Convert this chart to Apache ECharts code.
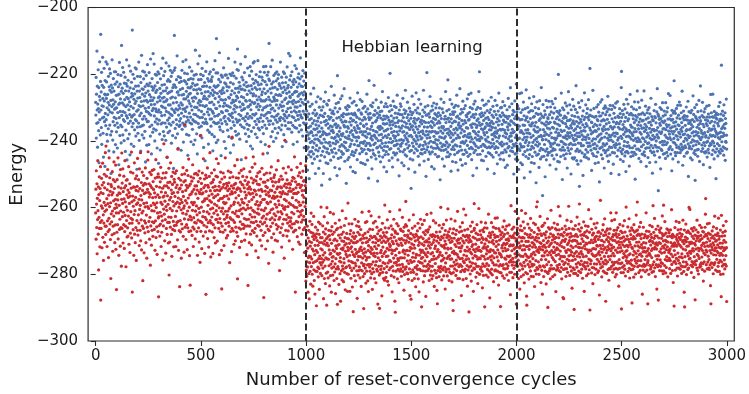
<!DOCTYPE html>
<html>
<head>
<meta charset="utf-8">
<script src="https://cdn.jsdelivr.net/npm/echarts@6/dist/echarts.min.js"></script>
<style>
html, body { margin: 0; padding: 0; background: #fff; }
#main { width: 749px; height: 394px; }
</style>
</head>
<body>
<div id="main"></div>
<script>
// energy of every cycle, read off the plot as a level per cycle:
// whole part in blueA..redC, tenths digit in the matching *Fine array
// energy = scale[0] + scale[1] * level (one scale per phase below)
const blueA = [
  '52 47 61 39 55 44 70 49 58 36 51 45 63 50 42 57 31 48 54 66 46 53 40 59 76',
  '49 56 43 62 37 51 58 46 68 53 41 50 33 57 47 64 52 45 55 29 60 48 54 44 66',
  '46 53 59 41 50 65 38 55 47 52 43 61 49 35 57 51 64 44 56 48 62 40 53 27 58',
  '55 42 50 67 48 57 39 53 45 60 51 34 56 47 63 49 44 58 52 37 63 50 46 54 41',
  '50 59 45 36 54 48 62 43 57 51 30 55 46 66 52 40 58 49 53 44 61 38 56 72 47',
  '43 57 52 64 40 49 55 46 62 51 38 59 45 53 48 61 35 56 50 42 58 47 67 54 32',
  '58 46 51 39 60 53 44 56 49 65 41 52 48 33 57 45 63 50 54 37 59 47 55 43 77',
  '47 54 62 44 50 57 36 53 48 60 42 55 51 64 46 58 40 52 64 45 49 28 56 43 61',
  '53 41 49 58 45 66 51 38 56 47 54 43 61 50 35 59 48 52 68 44 57 40 55 46 63',
  '51 56 44 60 39 52 47 63 54 42 57 50 31 55 46 61 49 53 37 58 45 65 52 48 56',
  '45 58 50 37 62 48 55 43 59 52 40 67 47 54 51 34 57 44 60 49 53 41 56 69 50',
  '57 43 53 65 47 51 38 58 45 62 50 55 42 49 61 46 56 36 52 59 44 63 48 54 30',
  '49 62 46 54 41 57 52 35 60 48 55 44 64 51 47 58 39 53 45 67 50 56 42 61 52',
  '54 40 58 47 63 45 50 56 38 52 66 49 43 57 53 32 59 46 55 41 60 51 48 65 44',
  '46 55 42 59 51 63 48 53 44 61 37 56 50 47 62 54 40 57 45 52 29 58 49 63 75',
  '58 48 64 43 53 39 57 50 46 60 52 44 68 55 41 49 56 36 61 47 54 51 43 59 45',
  '50 44 56 61 46 52 35 59 48 54 63 42 51 57 45 66 49 38 55 53 47 60 44 62 50',
  '43 59 49 53 67 45 56 41 58 50 47 62 54 33 57 46 60 52 40 55 48 64 51 45 57',
  '55 47 60 38 51 57 44 63 49 53 42 59 46 60 52 37 56 48 61 45 54 50 39 58 70',
  '48 53 45 62 56 41 50 58 34 55 47 65 52 44 60 49 57 43 53 68 46 51 40 56 62',
  '52 60 43 49 55 39 64 47 57 51 45 61 53 36 58 48 54 44 59 50 31 56 46 63 53',
  '45 51 58 66 44 53 48 60 42 56 50 37 59 47 54 62 41 52 57 46 63 49 55 43 60',
  '59 46 52 41 61 49 56 35 54 48 63 45 51 58 40 55 47 67 53 44 57 50 62 38 74',
  '50 57 44 55 47 62 39 58 52 45 60 48 54 69 43 51 56 42 59 46 53 33 61 49 55',
  '44 56 61 48 53 42 57 50 64 46 55 38 52 59 47 61 45 53 36 58 49 62 51 44 57',
  '56 49 42 60 51 46 67 54 40 57 48 53 45 62 50 34 59 47 55 43 61 52 39 56 48',
  '47 62 53 45 58 37 52 49 61 44 55 51 66 48 42 57 53 46 60 40 54 50 63 45 71',
  '53 45 57 63 41 55 48 59 46 52 39 58 50 44 65 47 56 32 54 49 61 43 57 51 46',
  '60 51 46 54 49 58 43 62 50 56 45 68 41 53 47 59 52 38 57 44 55 48 64 50 42',
  '46 58 50 40 56 44 61 53 47 64 51 36 55 49 58 42 63 46 52 57 35 60 48 54 66',
  '55 43 59 51 66 47 52 45 57 41 60 54 48 62 44 50 56 39 53 59 46 67 51 43 58',
  '49 54 45 61 42 57 50 63 46 53 38 58 52 47 55 61 43 56 49 60 45 52 41 64 50',
  '57 47 62 52 44 59 37 55 50 65 48 53 43 58 46 61 51 34 56 48 63 45 54 60 73',
  '44 60 53 48 57 51 45 64 40 55 49 58 47 52 67 42 57 50 44 59 38 54 61 47 53',
  '52 49 57 43 62 46 55 39 59 51 47 63 53 45 56 41 60 48 54 62 50 43 58 46 55',
  '58 45 51 66 47 54 42 57 50 61 44 52 36 59 49 55 46 63 51 40 57 48 62 53 45',
  '47 56 44 59 53 38 61 49 55 46 64 51 57 43 50 58 45 69 52 47 56 42 60 54 68',
  '54 50 61 45 57 48 52 41 63 47 55 59 44 51 37 58 53 46 60 49 55 43 65 50 56',
  '45 59 52 48 64 43 56 50 38 57 47 61 54 46 52 62 41 58 49 55 44 60 51 68 47',
  '53 47 58 42 55 61 46 52 57 40 63 49 54 45 59 51 36 56 48 62 44 53 58 47 76'
];
const blueB = [
  '48 55 41 60 52 45 57 37 50 63 46 53 43 58 49 34 56 51 44 61 47 54 66 42 52',
  '57 44 51 48 62 39 55 46 59 50 43 68 53 47 56 41 60 49 52 36 58 45 54 63 50',
  '46 59 53 42 56 49 65 44 51 57 38 54 48 61 45 52 40 58 50 64 47 55 43 60 31',
  '53 47 58 50 44 61 52 36 57 46 63 49 55 42 59 51 45 67 48 54 40 56 50 62 44',
  '50 62 45 55 39 58 47 53 64 43 51 56 48 33 60 46 54 41 57 52 69 45 49 59 53',
  '44 52 60 47 56 51 42 58 49 66 45 54 38 61 50 47 55 43 62 48 53 57 35 51 73',
  '59 48 54 41 63 50 45 57 52 37 60 46 53 49 64 42 56 51 44 58 47 65 50 55 43',
  '51 57 43 59 46 54 68 48 53 40 56 50 45 61 47 55 32 58 52 44 60 49 54 41 62',
  '45 53 58 50 42 61 49 55 46 65 51 38 57 47 54 43 59 52 48 63 44 56 50 36 58',
  '56 42 50 63 53 47 59 44 52 36 58 49 55 45 62 51 48 57 41 54 67 46 53 50 60',
  '49 60 46 53 57 43 51 64 47 55 40 59 52 45 58 48 63 44 56 50 39 61 47 54 52',
  '54 45 57 48 61 50 39 56 52 46 59 43 55 49 66 47 53 41 60 51 45 58 34 57 71',
  '47 56 51 44 59 53 46 62 49 57 42 54 50 37 61 48 55 45 63 52 43 58 47 69 50',
  '58 50 43 60 47 55 52 41 64 49 56 45 51 59 46 33 57 53 48 61 44 54 50 42 58',
  '52 46 59 54 40 57 48 63 51 45 60 53 47 67 42 56 49 55 44 58 38 52 61 46 55',
  '43 57 50 47 62 52 44 58 36 55 49 61 46 53 57 43 65 50 48 56 41 59 45 54 74',
  '55 49 62 45 53 58 47 51 60 42 56 38 54 48 63 50 44 57 52 46 61 49 55 43 59',
  '50 54 46 61 48 43 57 52 66 47 55 41 59 50 45 56 53 35 60 48 52 58 44 62 47',
  '46 61 53 49 56 40 58 47 54 51 64 44 57 48 52 39 60 55 45 50 59 43 68 53 49',
  '60 47 55 42 51 57 49 63 45 53 48 58 37 56 50 46 61 52 44 55 41 59 50 57 30',
  '53 44 58 50 65 47 54 41 59 52 46 56 49 62 43 57 51 36 55 48 60 45 53 67 50',
  '47 56 50 59 44 53 61 48 42 57 51 64 46 54 39 58 50 47 55 43 62 52 49 56 45',
  '55 49 43 57 52 60 46 51 68 45 56 40 53 59 48 44 61 50 55 47 34 58 52 45 74',
  '49 58 53 46 62 50 41 55 47 59 44 52 57 49 65 43 54 48 60 51 46 56 38 53 61',
  '44 52 60 55 48 57 45 63 50 37 54 47 59 52 43 56 49 61 45 58 51 62 47 55 42',
  '57 46 51 48 59 42 56 53 45 61 50 55 33 58 47 52 64 44 57 49 54 46 60 41 53',
  '51 59 47 54 44 63 49 38 56 52 46 58 50 67 45 55 48 53 42 60 47 56 51 44 72',
  '46 53 57 42 60 50 55 47 52 64 43 58 49 54 36 57 51 45 62 48 55 40 59 50 46',
  '58 48 52 61 45 56 43 59 51 47 55 62 40 53 49 57 66 46 52 44 58 50 37 61 54',
  '50 55 44 57 49 53 68 46 58 41 54 51 47 60 45 56 52 39 59 48 63 43 55 50 47',
  '43 60 52 47 56 50 45 62 39 55 48 58 53 44 57 50 64 46 53 59 42 51 56 66 49',
  '56 45 59 51 43 61 48 54 50 66 46 57 41 53 49 60 45 55 35 58 52 47 62 44 57',
  '52 47 55 63 49 44 58 51 46 60 53 38 56 48 54 43 61 50 57 45 52 67 49 55 75',
  '48 58 43 54 61 50 46 57 53 41 59 49 55 64 44 52 47 58 40 56 51 62 46 53 50',
  '59 46 53 49 57 42 62 48 55 51 45 60 37 57 50 54 44 63 48 56 46 52 59 43 55',
  '45 54 60 47 52 65 43 56 50 58 46 53 49 61 42 55 57 47 51 36 59 50 45 64 52',
  '53 50 46 58 44 55 51 62 48 39 57 52 45 60 54 49 66 43 56 50 47 58 53 41 61',
  '47 57 52 43 61 48 54 46 59 53 63 44 50 56 41 58 47 55 52 62 45 51 38 57 49',
  '55 44 58 51 47 60 39 53 57 45 52 64 49 55 46 58 42 61 50 54 48 69 44 56 51',
  '50 56 48 62 45 53 58 44 51 60 47 55 35 59 52 46 57 63 43 54 49 41 58 47 70'
];
const blueC = [
  '51 44 59 47 55 62 42 53 49 57 38 61 46 54 50 66 45 56 48 52 41 59 53 47 66',
  '46 57 52 40 60 49 55 44 63 51 47 58 35 54 50 45 61 48 56 53 43 67 49 57 52',
  '58 50 45 61 53 47 56 42 52 59 48 64 44 55 51 37 57 46 60 50 54 41 62 47 55',
  '43 55 60 48 51 57 46 65 53 41 58 49 54 45 61 52 47 56 33 59 50 44 63 52 48',
  '54 47 52 58 44 61 50 39 56 48 63 45 53 57 42 59 51 46 68 50 55 43 58 49 29',
  '49 62 46 53 57 43 55 51 47 60 52 36 58 45 54 49 64 42 56 51 46 61 53 44 57',
  '57 45 55 49 63 51 44 58 53 40 56 48 61 47 52 59 45 63 50 43 57 54 48 62 46',
  '45 53 59 42 50 56 48 61 46 55 64 49 52 38 57 50 44 60 53 47 58 41 55 51 73',
  '52 59 47 56 41 54 60 46 51 58 43 53 49 66 45 56 52 48 35 61 46 55 50 57 44',
  '60 48 53 45 58 50 42 63 55 47 51 57 44 54 62 49 39 56 52 46 59 51 67 45 53',
  '47 56 50 62 44 52 57 48 54 37 60 46 53 51 58 43 55 64 47 50 56 42 61 53 49',
  '55 43 58 51 47 60 53 45 69 49 56 42 52 59 46 54 50 40 57 48 63 45 55 52 32',
  '50 61 45 54 57 48 41 56 52 47 63 51 44 58 49 55 36 60 47 53 50 57 43 66 54',
  '44 52 57 49 62 46 55 50 43 59 48 54 61 45 51 57 47 64 42 56 50 48 58 53 75',
  '58 47 53 60 45 51 56 38 55 49 58 44 52 67 47 54 50 43 61 46 57 52 48 55 41',
  '53 49 46 58 52 43 61 54 47 57 50 45 56 62 41 53 59 48 51 34 58 46 55 49 63',
  '46 58 51 44 56 50 64 47 53 42 59 52 48 57 45 61 54 39 56 50 47 62 44 53 58',
  '61 45 55 52 48 59 43 57 50 65 46 53 41 60 49 55 51 47 58 44 62 50 54 46 37',
  '49 54 60 46 57 51 45 53 62 48 40 56 52 59 47 54 44 61 50 57 46 52 63 48 55',
  '52 47 56 43 51 63 49 58 45 54 50 57 36 55 48 61 53 46 59 42 56 50 45 68 74',
  '57 50 44 60 53 46 55 41 58 51 62 47 54 49 56 43 60 52 45 57 38 53 50 64 47',
  '45 59 52 48 56 62 44 51 57 47 53 40 58 50 46 66 52 55 43 59 49 54 61 45 51',
  '54 46 58 51 43 57 49 60 52 45 55 63 47 53 35 58 50 44 56 52 60 46 49 57 67',
  '48 55 50 63 46 53 58 42 56 49 61 45 52 57 48 54 41 59 51 47 64 53 44 56 50',
  '59 44 56 47 54 50 67 45 52 58 43 55 49 61 46 53 57 39 54 50 46 59 52 48 60',
  '43 57 51 55 48 61 46 53 41 59 50 56 45 52 64 47 55 49 58 44 53 37 57 51 46',
  '56 49 53 45 60 52 44 58 50 47 57 62 41 55 49 53 46 59 51 68 45 54 50 58 31',
  '50 58 46 52 57 43 55 61 48 54 39 57 51 46 60 52 45 56 49 63 47 53 58 44 55',
  '47 53 60 49 44 56 51 58 42 63 53 47 55 50 45 59 54 48 61 43 57 50 66 52 46',
  '55 46 51 57 50 65 47 53 44 58 49 56 52 38 60 46 54 57 42 51 59 48 55 50 71',
  '52 60 48 54 45 59 43 56 51 47 61 53 46 57 50 44 62 49 55 41 58 52 47 54 63',
  '46 51 57 44 62 50 53 48 59 45 55 52 67 47 54 40 57 51 46 60 49 56 43 58 51',
  '58 47 54 50 46 57 52 61 44 53 49 58 45 56 51 63 48 36 55 50 59 46 53 47 56',
  '50 56 43 59 53 48 55 46 60 52 42 57 49 54 65 47 52 58 44 51 56 49 61 45 34',
  '44 58 52 47 57 51 62 45 54 49 56 43 59 52 46 55 50 64 48 53 41 57 50 55 69',
  '56 49 60 53 45 52 47 58 50 63 46 55 51 40 57 48 54 59 45 52 47 61 44 56 50',
  '51 45 55 48 61 57 43 54 49 56 52 46 59 50 44 62 53 47 57 39 55 51 48 66 53',
  '47 59 50 56 44 53 58 49 66 45 51 57 48 54 42 60 47 53 56 50 45 58 52 35 57',
  '59 52 46 57 51 48 55 43 58 50 54 61 45 52 47 56 49 63 44 57 52 46 59 50 76',
  '53 48 56 45 60 50 54 47 52 58 44 62 51 55 46 53 59 42 57 49 55 48 64 51 46'
];
const redA = [
  '49 57 41 63 52 45 59 36 54 47 66 50 43 58 31 55 48 61 44 53 39 57 46 64 22',
  '56 44 52 60 47 38 58 51 65 42 55 49 34 59 46 53 62 40 57 50 45 68 52 43 70',
  '45 61 50 54 39 57 47 63 52 43 59 35 55 48 67 44 51 60 46 56 41 53 29 58 49',
  '58 47 55 42 62 50 37 56 45 60 53 48 65 43 57 51 40 59 46 54 64 38 52 49 25',
  '51 43 60 55 46 53 67 41 58 49 36 56 52 44 61 47 55 39 63 50 45 57 33 54 68',
  '44 59 48 52 63 40 56 50 46 61 54 38 57 43 66 49 53 45 58 32 51 60 47 55 42',
  '60 50 45 57 42 54 48 64 39 56 52 46 59 37 55 43 62 50 48 57 69 41 53 46 24',
  '47 55 62 44 51 58 36 53 49 65 43 57 50 40 60 54 45 56 34 52 61 47 58 44 67',
  '53 42 56 49 60 46 54 39 63 50 57 44 52 68 41 55 47 59 38 53 49 62 45 56 28',
  '50 58 44 61 52 37 55 47 59 43 51 64 46 56 40 58 49 53 35 60 45 57 51 66 69',
  '43 56 51 47 59 54 41 62 48 55 33 58 45 52 61 39 57 50 44 63 47 54 42 59 52',
  '57 46 63 50 44 56 52 38 60 47 54 66 42 51 58 45 53 36 61 49 55 43 62 48 23',
  '48 61 45 54 57 42 50 59 46 64 53 39 56 48 43 60 52 47 57 34 54 62 45 51 71',
  '55 49 58 41 53 60 47 56 37 51 62 44 58 50 67 43 55 46 59 52 40 57 48 63 30',
  '46 53 40 59 51 45 65 54 48 57 43 61 36 55 50 58 44 53 62 47 56 39 52 60 45',
  '59 44 55 62 48 52 39 57 45 63 50 46 58 53 41 56 69 47 54 38 60 51 44 57 26',
  '52 57 47 43 60 54 50 35 58 46 61 53 44 56 49 64 42 55 51 59 37 52 47 62 77',
  '45 60 53 56 41 49 58 46 63 52 38 57 50 45 61 54 47 66 43 58 51 36 55 48 27',
  '58 48 44 61 55 47 53 59 42 56 50 65 45 52 39 60 48 57 44 53 62 46 58 41 50',
  '50 55 62 46 52 58 43 49 57 36 61 54 47 59 45 51 63 40 56 49 55 34 60 47 74',
  '44 57 51 59 38 55 46 62 53 48 56 42 66 50 57 45 53 60 37 54 48 58 43 61 24',
  '56 47 60 45 54 50 64 41 58 52 46 57 39 55 49 61 44 53 68 47 56 51 35 59 46',
  '53 62 48 55 43 59 51 37 57 46 60 54 49 42 63 52 56 45 58 40 55 47 61 50 66',
  '47 52 57 40 61 49 55 46 65 53 44 58 51 36 56 48 59 43 54 62 46 57 50 38 25',
  '60 45 54 51 57 43 62 49 53 58 39 55 47 61 52 44 67 50 57 46 53 41 59 48 55',
  '49 58 42 56 50 63 46 54 59 45 51 57 34 60 48 55 43 62 52 47 58 37 56 44 73',
  '55 50 61 47 44 57 52 39 58 53 46 64 49 56 41 59 45 54 60 50 43 57 48 66 29',
  '42 57 53 60 48 55 45 62 50 38 57 52 47 59 44 56 51 63 40 54 49 58 46 53 61',
  '58 46 51 44 63 52 57 48 41 56 60 45 54 50 67 43 55 47 61 36 58 52 45 57 26',
  '51 59 47 56 53 40 58 45 62 49 55 43 57 51 46 60 39 54 48 64 44 56 50 59 67',
  '46 54 60 43 57 50 48 65 44 56 52 37 59 47 55 61 42 53 49 58 45 62 51 35 52',
  '57 49 45 58 52 62 41 55 47 60 53 44 57 50 39 63 48 56 46 54 68 42 59 48 23',
  '50 61 54 46 59 43 56 51 38 58 47 55 62 45 53 49 57 41 60 52 44 56 33 55 70',
  '44 55 49 62 47 57 53 45 60 50 64 42 56 48 54 59 46 51 37 58 55 43 61 49 54',
  '61 47 56 52 41 59 48 54 46 63 51 57 44 55 40 58 50 66 45 53 59 47 52 60 31',
  '48 56 43 58 54 50 61 45 57 39 55 49 52 60 46 56 42 63 51 47 58 35 54 50 72',
  '55 51 59 44 62 47 53 57 49 42 60 55 46 58 51 44 64 48 56 53 41 59 45 57 47',
  '47 58 52 48 56 63 45 50 59 46 54 38 61 52 57 43 55 49 60 46 67 51 44 56 24',
  '59 44 57 53 47 55 51 64 42 58 50 46 56 61 40 53 48 58 45 62 52 39 57 50 65',
  '52 49 61 46 58 43 56 50 55 47 63 53 44 59 48 54 60 37 56 45 51 58 47 64 28'
];
const redB = [
  '52 46 58 43 55 49 61 47 53 38 57 50 44 60 51 35 56 48 63 45 54 50 41 59 66',
  '47 55 50 62 44 53 57 40 59 48 52 65 46 56 42 58 51 37 54 49 61 45 57 53 33',
  '58 49 45 56 52 60 47 54 43 63 50 46 58 39 55 51 48 62 44 57 53 68 47 50 55',
  '44 57 53 48 61 46 51 59 36 55 49 64 43 56 52 47 58 41 60 50 54 45 57 33 68',
  '55 50 62 45 57 43 54 49 60 47 53 58 40 56 51 66 44 52 48 59 38 55 46 61 50',
  '49 58 44 53 50 65 47 56 42 59 52 45 57 48 62 37 54 50 46 60 53 43 56 51 34',
  '60 47 54 51 46 58 41 55 63 49 52 44 57 50 35 61 48 53 45 58 56 42 67 47 53',
  '46 53 59 42 56 50 48 61 45 54 57 39 52 46 64 51 55 47 59 44 50 57 38 54 69',
  '53 44 57 49 62 47 55 51 38 58 46 53 60 43 56 49 54 45 62 52 40 57 48 55 31',
  '51 59 46 55 44 57 50 64 48 53 42 58 47 55 51 61 45 52 36 56 49 59 44 63 50',
  '45 52 61 47 58 53 43 56 50 46 60 54 40 57 48 53 66 45 55 50 58 43 52 47 32',
  '57 48 53 44 51 59 46 62 52 41 55 49 57 45 63 50 47 56 42 59 53 38 54 48 66',
  '50 56 47 60 45 52 58 43 54 65 48 51 44 57 53 39 60 46 55 49 62 51 45 57 52',
  '43 54 58 50 63 47 55 41 57 49 53 46 61 52 45 58 34 56 50 54 47 59 64 44 32',
  '56 49 44 58 52 46 60 53 47 55 37 57 50 62 45 54 48 59 43 56 51 46 58 42 69',
  '48 61 52 55 43 57 50 45 59 47 53 63 42 56 51 48 57 40 60 53 46 55 49 66 54',
  '54 46 57 49 61 44 53 58 51 38 56 47 60 52 45 55 50 64 43 57 48 53 35 59 31',
  '59 51 45 56 48 53 62 47 55 43 58 50 46 61 49 54 41 57 52 47 67 45 56 50 60',
  '46 55 60 43 57 50 54 48 64 45 52 59 47 53 56 39 61 50 44 58 51 46 55 62 70',
  '52 47 56 61 45 53 49 58 44 57 51 42 60 48 55 63 46 52 57 37 54 49 59 45 35',
  '57 53 48 55 42 60 50 46 58 52 65 45 54 49 57 43 53 61 47 56 50 40 58 46 51',
  '44 58 51 47 59 46 56 62 43 54 49 57 38 55 51 46 60 53 48 64 45 57 52 50 33',
  '55 48 62 53 50 45 57 41 59 47 54 52 63 44 56 49 58 45 51 36 60 53 47 56 65',
  '50 56 45 59 52 48 60 54 46 57 42 55 49 61 47 53 44 58 51 66 45 55 49 43 57',
  '47 52 58 44 55 63 49 51 56 40 58 46 53 57 48 54 62 45 50 59 43 56 38 52 34',
  '58 45 53 50 57 47 55 43 61 51 46 59 52 45 56 68 47 54 49 57 42 60 51 46 54',
  '49 57 46 62 44 54 50 58 47 53 56 39 60 48 55 45 52 63 46 57 50 44 58 53 67',
  '53 50 59 46 56 42 58 51 45 60 49 55 47 53 64 44 57 50 41 56 52 47 59 35 31',
  '45 60 52 48 57 51 46 55 63 47 52 58 44 54 49 60 45 56 51 48 66 43 55 50 57',
  '56 47 54 59 43 55 50 61 48 52 45 57 53 37 59 47 54 50 62 46 56 42 58 49 67',
  '51 55 48 45 60 53 57 46 52 65 49 43 56 51 58 47 54 40 60 52 46 57 50 55 31',
  '47 58 53 56 49 44 61 52 47 56 42 59 51 54 45 63 48 55 50 57 38 53 46 60 69',
  '60 46 51 57 52 48 55 43 59 50 53 47 62 45 56 49 41 58 53 47 54 67 50 44 56',
  '44 53 59 50 46 58 52 63 47 55 51 45 57 39 60 48 53 56 44 59 50 54 47 61 33',
  '55 49 47 62 53 57 44 51 56 48 60 53 46 54 50 43 58 65 47 52 56 45 59 36 52',
  '50 57 53 45 58 49 62 46 55 51 44 59 48 56 53 61 42 55 50 47 58 52 45 57 64',
  '46 52 60 54 47 56 43 58 50 64 45 53 57 49 55 40 60 47 52 56 45 59 51 48 33',
  '58 51 45 57 50 53 59 47 54 44 61 52 48 57 46 55 63 43 58 50 53 46 60 55 49',
  '52 56 48 61 44 55 51 46 59 53 47 57 42 56 50 62 48 54 45 58 51 37 55 49 68',
  '49 45 57 52 60 47 54 50 43 58 55 48 61 46 53 57 44 59 51 66 47 54 50 56 34'
];
const redC = [
  '48 56 51 44 60 53 46 58 49 63 42 55 50 57 45 53 38 59 47 54 61 50 43 56 66',
  '55 47 59 52 45 57 50 62 43 54 48 56 41 60 52 46 58 51 65 44 55 49 53 36 33',
  '50 58 44 53 61 47 55 49 57 42 52 60 46 54 48 58 45 63 50 56 43 59 51 47 55',
  '46 53 57 49 55 43 62 51 47 58 54 39 56 50 45 61 53 48 57 44 67 52 46 55 69',
  '58 45 52 60 48 56 51 44 59 53 47 55 64 46 52 58 41 54 49 57 45 60 50 37 53',
  '52 61 47 55 43 58 50 54 46 62 51 57 45 53 49 56 40 59 52 47 55 44 63 50 32',
  '44 55 60 48 53 57 45 51 59 46 54 42 58 50 66 47 55 52 45 60 49 56 43 57 51',
  '57 49 53 46 62 51 56 43 55 48 60 52 37 57 50 45 59 53 47 54 61 46 52 58 67',
  '51 56 45 59 47 54 49 64 52 44 57 50 55 46 58 42 53 60 48 56 50 35 57 45 35',
  '47 53 58 50 55 45 61 48 56 52 43 59 51 46 57 63 49 54 44 58 52 47 55 68 50',
  '60 48 55 43 57 52 46 58 50 54 62 45 51 57 39 55 48 60 53 46 56 50 44 59 31',
  '45 57 51 56 49 61 44 53 58 47 52 55 46 64 50 57 43 54 59 48 53 45 61 51 68',
  '53 50 59 47 54 44 57 52 48 60 45 56 51 53 42 58 47 55 50 62 46 57 38 54 48',
  '58 46 53 61 45 55 50 57 43 54 59 48 52 56 47 60 44 51 66 49 55 45 58 52 31',
  '49 55 47 52 63 48 56 44 59 51 46 57 53 40 55 50 58 46 53 61 47 56 50 43 57',
  '55 52 60 45 50 57 47 54 62 49 53 44 58 51 56 45 59 48 52 36 57 50 54 47 70',
  '46 58 53 49 56 43 55 51 46 59 54 48 61 45 57 52 47 55 50 63 44 53 58 49 34',
  '57 47 51 56 44 59 52 60 48 53 45 57 50 55 41 58 53 46 54 49 60 45 56 65 52',
  '50 54 46 62 53 48 57 44 56 51 58 47 53 45 59 50 63 48 55 43 57 52 46 58 65',
  '44 59 55 48 57 51 45 60 53 47 55 39 58 49 54 46 61 51 56 47 53 59 44 55 31',
  '56 48 52 58 46 54 61 49 44 57 51 55 47 62 53 45 58 50 43 56 52 67 48 54 50',
  '52 57 47 54 60 45 53 56 50 48 63 46 55 42 59 51 54 47 58 45 56 49 60 53 33',
  '47 53 59 45 56 50 57 43 61 52 46 58 49 54 56 48 44 59 51 64 47 55 50 57 69',
  '59 46 54 52 48 58 44 55 50 60 47 53 57 45 51 62 48 56 43 54 58 50 46 37 53',
  '53 51 45 60 55 47 56 52 46 58 53 49 44 57 51 55 65 47 59 50 45 56 52 48 33',
  '48 57 53 50 44 59 51 55 47 61 50 56 45 54 58 46 52 57 49 44 60 53 55 47 68',
  '55 45 58 48 56 52 63 46 53 57 43 54 50 59 47 55 52 38 57 49 54 46 61 50 34',
  '50 56 47 55 59 45 52 58 49 54 46 60 53 48 56 51 45 58 64 47 53 57 44 55 68',
  '45 53 57 51 47 62 54 49 56 44 58 52 46 55 50 60 48 53 57 43 55 49 59 52 51',
  '58 49 52 46 57 53 48 59 44 55 51 57 66 47 53 56 45 58 50 54 41 57 48 53 32',
  '52 55 48 60 50 45 57 54 47 62 49 53 56 46 58 43 55 51 59 48 54 46 57 62 50',
  '47 58 54 45 56 50 59 47 53 57 44 51 58 49 55 46 63 52 48 56 45 54 37 59 32',
  '56 50 46 57 52 61 48 55 43 58 53 47 56 51 45 59 50 54 46 58 67 49 55 52 66',
  '49 54 58 51 47 55 44 60 52 48 57 55 46 53 59 47 52 56 42 60 50 54 48 57 35',
  '54 47 52 59 55 48 57 46 63 51 56 45 53 58 50 44 57 52 49 55 46 61 53 47 56',
  '46 57 53 48 60 54 50 56 45 52 59 47 55 41 58 51 54 48 57 45 53 60 50 65 70',
  '58 52 47 55 51 57 45 61 54 48 56 50 58 46 53 49 62 45 55 52 47 58 40 54 33',
  '51 48 56 53 46 59 52 47 57 55 44 60 50 54 47 56 52 64 48 53 57 45 55 50 53',
  '55 60 49 52 57 45 54 58 46 51 63 48 56 53 45 57 50 55 48 59 44 53 51 36 64',
  '48 53 57 46 55 50 58 44 61 52 47 56 53 49 57 45 52 59 47 55 50 62 46 53 34'
];

const blueAFine = [
  '38172 94605 72813 50946 21873', '60495 13827 49061 38527 04916', '27504 86193 05728 41369 58024', '91836 40257 68301 92754 13689',
  '45029 71586 32940 67153 80247', '73168 05294 81637 20485 96310', '08451 69372 15084 73926 41578', '56293 18407 63952 04718 27365',
  '84710 52936 07481 35690 18243', '19367 84051 92364 81027 56493', '62548 30719 46825 19374 08652', '30985 67142 08519 56243 71908',
  '74031 29568 57306 42819 63075', '15682 03497 21643 98056 34718', '89274 61835 93078 26531 05469', '47519 86023 35792 60148 92837',
  '23806 14759 68420 79315 40261', '96153 42087 14365 03872 57914', '51740 97368 80257 48196 26037', '08327 25614 49183 61507 93582',
  '64915 83092 27640 15938 70426', '32068 49751 06895 37264 18593', '75403 16285 93512 84079 62718', '19856 70342 41387 02651 35904',
  '86271 04958 75024 96318 40269', '43590 68127 18936 53702 81645', '07148 35962 62591 20487 56931', '98362 91405 30748 69135 27086',
  '25709 53816 84203 47596 13478', '61834 27049 59672 13840 95162', '34097 82651 06315 78924 40725', '72546 09183 47890 25061 68394',
  '16983 64570 23157 91438 07251', '50271 38926 98462 04375 52816', '83615 10794 61039 57281 34960', '29450 76382 35724 86109 71538',
  '67138 42059 89401 32657 09247', '04726 95813 16285 60943 85372', '95382 21647 70536 49812 26109', '41067 58394 52918 73026 63485'
];
const blueBFine = [
  '62910 48375 16294 07538 92641', '15847 93026 58173 64290 31758', '80361 25794 03658 19427 86035', '47295 61083 72941 58306 14972',
  '93528 07416 29085 73164 50829', '26074 84951 67320 41895 73206', '71483 30628 94517 26043 18574', '38605 56197 10849 92718 65031',
  '04952 73840 85236 30571 42986', '59176 12063 49702 85634 07413', '85730 69482 23168 07459 91640', '12648 45917 76095 63182 38257',
  '67391 08254 31487 94026 65198', '43027 91635 58920 15763 20874', '96815 37409 04653 78291 53740', '20589 64172 87316 42905 09365',
  '74163 29850 15748 60327 86412', '31946 85013 62095 39148 47581', '58402 16739 93571 05826 12097', '03275 50486 26834 71950 68723',
  '89617 73248 40169 28534 35906', '46038 02961 75423 94087 71352', '17594 48305 08952 16763 94218', '65821 94670 31786 53409 20679',
  '32460 27138 69014 80275 57134', '90783 61542 14637 36918 03865', '54109 35897 80253 62041 79520', '21356 89024 47819 05372 46783',
  '78942 13760 92345 71680 18396', '05618 56493 26970 49253 84027', '49273 70185 53618 17840 61548', '86534 42619 08372 95126 39705',
  '13087 98356 71495 34609 05261', '67450 04821 36027 82394 72938', '34912 67538 92760 50817 28473', '92678 31094 47183 26540 94610',
  '50361 85247 15906 79125 63052', '28794 19630 60452 43871 17389', '73025 52918 89314 08636 40725', '41589 06473 24871 61958 85164'
];
const blueCFine = [
  '47820 13695 80362 57914 26038', '91356 70248 14795 30682 59471', '06943 52817 69208 94135 73826', '58271 96430 25714 68093 10549',
  '23694 08571 97346 12578 84362', '75038 64192 41859 70326 35907', '30517 29864 03621 85749 62184', '89462 15307 76493 21058 07315',
  '14795 83026 52078 46913 98650', '62083 47159 18540 93627 41278', '97546 20381 63925 07481 56903', '41239 76548 30162 58794 23716',
  '85601 39274 94837 16250 70482', '28974 05613 57014 82369 14597', '63158 81492 26379 40815 98230', '09327 56840 81653 67942 35164',
  '74815 23067 49208 15376 60948', '36402 97125 05784 93061 27583', '52783 40619 72136 38497 81025', '18069 65382 38951 06724 49376',
  '81534 12796 64203 79518 06842', '45976 78034 10867 24053 93718', '27618 34950 95472 51386 62095', '90342 69817 47329 86071 18453',
  '53780 05268 83095 32946 75136', '16295 47831 21648 60719 34027', '69423 90156 76582 19853 51690', '32851 26479 04917 57402 86349',
  '87106 53782 39250 84637 20581', '05734 81945 68734 03168 47912', '71460 38217 15869 92715 63084', '48392 64058 97402 38541 09657',
  '24918 09673 52183 71264 95320', '96057 72341 30647 45980 31478', '31685 45920 86921 19037 78263', '67204 17563 43759 64812 50896',
  '13579 93806 61038 27495 84321', '85942 50138 29576 03618 16745', '40326 26794 78415 59372 42089', '79861 84015 04236 85140 67532'
];
const redAFine = [
  '83516 20947 35108 64297 15843', '29074 86351 92846 10573 68209', '64832 13579 07412 58936 40175', '10598 47263 68935 24701 93586',
  '57341 92608 41267 89354 26017', '92687 35014 26793 03648 71452', '36105 78492 85031 47216 09368', '71459 04836 19546 72985 54230',
  '08723 61579 53280 36419 87694', '45968 29315 70624 91057 32851', '93210 85647 34719 68532 06479', '27546 14083 86052 40718 59123',
  '61879 50632 12487 75369 84706', '14305 97218 59364 02845 37592', '89652 36740 03195 86471 21048', '52037 72891 48623 39150 76235',
  '76481 08563 91857 14036 40917', '30794 45129 27416 57893 63580', '95128 61875 60342 83271 18364', '48360 39204 84571 20649 92713',
  '02615 87436 15938 96502 45871', '67943 10752 79025 31784 80926', '24578 53091 36704 68123 17459', '81092 26847 92468 05937 64308',
  '56439 74518 50817 42365 09142', '13784 08236 24193 79608 36597', '90251 65972 87630 13594 72860', '47086 31459 43057 60281 58213',
  '62397 97024 06582 24716 83749', '35814 40683 71349 87052 20635', '78260 15397 58916 35479 94172', '04673 82105 13284 92630 47581',
  '59185 67342 96471 48017 63928', '21947 03568 30825 76143 12054', '86352 59814 64709 01356 78436', '43609 24170 85143 57928 35197',
  '97034 76825 27698 13460 01762', '18526 41093 63012 89574 56308', '64781 95237 49356 26815 29814', '32095 18646 02587 70392 84573'
];
const redBFine = [
  '71594 06283 45810 92736 58142', '38026 59417 80294 35681 27605', '94653 21870 16738 07495 63918', '15287 84503 69142 58364 90271',
  '60749 37916 23587 41029 35846', '27318 92645 74036 86153 71490', '83965 40172 08451 29687 46053', '49502 16839 51793 64208 82617',
  '06134 75368 97025 13945 19784', '52871 29054 30689 78412 64329', '97426 63781 42316 05873 38065', '31680 08945 86472 59136 05718',
  '68257 51302 19854 34690 72491', '14093 87621 63207 91548 49836', '75912 34058 05963 27314 96250', '40685 79243 78140 60892 23574',
  '89317 12594 24598 43067 60182', '23748 65830 91375 86129 37945', '56092 48176 57216 02453 84613', '92561 03487 38049 75921 15038',
  '07834 96251 63927 18604 52796', '61479 37608 15483 49270 98321', '35206 82945 82610 36758 06457', '80953 14762 49135 93482 71809',
  '42618 59073 20794 67015 43962', '19375 26894 76358 24839 69254', '74120 73518 34062 51746 20587', '58647 40236 98571 83092 35148',
  '26893 85149 07246 19563 81670', '93051 61307 53918 46281 47326', '47762 09485 81603 72458 16093', '12480 76352 26849 05137 63815',
  '85236 32619 64127 93604 28479', '60914 57028 17583 38926 94501', '39578 13864 90342 61875 07236', '76305 68491 45760 20349 52864',
  '21849 24075 72931 87516 39702', '54127 93680 38096 54273 85419', '98364 50713 61458 09631 14058', '03695 87242 09275 46188 70631'
];
const redCFine = [
  '25813 69407 51924 38670 14295', '71469 03582 28037 94156 60831', '40287 56913 83615 02749 35162', '96150 21748 47293 65801 82476',
  '18734 87056 02468 31927 49508', '63092 45361 79152 86034 17683', '37548 12790 54386 20495 91247', '82601 76835 16907 57318 63829',
  '09375 34629 93241 48160 28574', '54826 90143 38709 13572 76105', '28961 57480 62851 79043 04396', '75403 23916 07524 36891 51738',
  '41258 68074 85136 04625 97012', '86019 04357 31690 92784 26854', '12736 81592 49072 65318 73490', '69487 46213 96843 21507 38261',
  '34150 19876 23517 87436 64905', '97623 65048 71359 40162 09573', '53892 32704 04685 53291 85147', '06241 78539 58024 16978 42638',
  '80375 41962 37198 89543 17820', '45917 07385 61473 25806 60459', '21684 83051 89306 71249 93175', '67038 26497 15742 38615 24903',
  '39562 59180 42958 07324 58316', '84190 14623 70831 64097 81542', '10847 97356 26594 19853 37069', '58326 30819 83017 52468 96284',
  '23971 64205 57462 08731 40657', '76405 08732 14859 93126 15398', '41659 52487 69320 46579 72031', '95283 19064 32186 71940 08765',
  '02716 73598 95647 35028 64319', '68342 46135 40713 82695 29580', '34978 85210 73285 14367 53142', '87105 21674 18069 59431 86927',
  '15439 69803 64529 20784 31056', '50864 37951 27934 63512 95783', '92317 04586 81450 47096 02418', '46590 78123 50316 98253 67944'
];

// [energy at level 0, energy per level] for the three phases of each series
const blueScale = [[-272.9, 0.85], [-277.85, 0.78], [-280.35, 0.82]];
const redScale = [[-308.9, 0.95], [-317.9, 0.85], [-317.4, 0.85]];
const phaseStart = [0, 1000, 2000];
const phaseLines = [1000, 2000];
const xTicks = [0, 500, 1000, 1500, 2000, 2500, 3000];

function decode(lines, fine, scale, start) {
    let levels = [];
    lines.forEach((line, j) => {
        let tenths = fine[j].replace(/\s/g, '');
        line.trim().split(/\s+/).forEach((n, i) => levels.push(Number(n) + Number(tenths[i] || 0) / 10));
    });
    return levels.map((n, i) => [start + i * 1000 / levels.length, scale[0] + scale[1] * n]);
}

let blueData = [[blueA, blueAFine], [blueB, blueBFine], [blueC, blueCFine]]
    .flatMap((p, k) => decode(p[0], p[1], blueScale[k], phaseStart[k]));
let redData = [[redA, redAFine], [redB, redBFine], [redC, redCFine]]
    .flatMap((p, k) => decode(p[0], p[1], redScale[k], phaseStart[k]));

var chartDom = document.getElementById('main');
var myChart = echarts.init(chartDom, null, { renderer: 'canvas' });
var minus = v => String(v).replace('-', '\u2212');
var ink = '#1a1a1a';

var option = {
    animation: false,
    textStyle: { fontFamily: 'DejaVu Sans' },
    grid: {
        left: 88, right: 12, top: 7, bottom: 53,
        show: true, borderColor: '#2b2b2b', borderWidth: 1.2
    },
    xAxis: {
        type: 'value',
        min: -36,
        max: 3035,
        name: 'Number of reset-convergence cycles',
        nameLocation: 'middle',
        nameGap: 30,
        nameTextStyle: { fontSize: 18, color: ink },
        axisLine: { show: false },
        axisTick: { length: 5, customValues: xTicks, lineStyle: { color: '#2b2b2b', width: 1.1 } },
        axisLabel: { customValues: xTicks, fontSize: 15, color: ink, margin: 8, formatter: v => String(v) },
        splitLine: { show: false }
    },
    yAxis: {
        type: 'value',
        min: -300,
        max: -200,
        interval: 20,
        name: 'Energy',
        nameLocation: 'middle',
        nameGap: 52,
        nameTextStyle: { fontSize: 18, color: ink },
        axisLine: { show: false },
        axisTick: { length: 5, lineStyle: { color: '#2b2b2b', width: 1.1 } },
        axisLabel: { fontSize: 15, color: ink, margin: 10, formatter: minus },
        splitLine: { show: false }
    },
    graphic: [{
        type: 'text',
        x: 412, y: 48,
        style: {
            text: 'Hebbian learning',
            font: '16.5px "DejaVu Sans"',
            fill: ink,
            align: 'center',
            verticalAlign: 'middle'
        }
    }],
    series: [
        {
            name: 'blue',
            type: 'scatter',
            data: blueData,
            symbolSize: 3.2,
            progressive: 0,
            itemStyle: { color: '#4c72b0', opacity: 1 }
        },
        {
            name: 'red',
            type: 'scatter',
            data: redData,
            symbolSize: 3.2,
            progressive: 0,
            itemStyle: { color: '#cb2a2f', opacity: 1 },
            markLine: {
                silent: true,
                symbol: 'none',
                animation: false,
                label: { show: false },
                lineStyle: { color: '#2e2e2e', width: 2, type: [7, 3.5] },
                data: phaseLines.map(v => ({ xAxis: v }))
            }
        }
    ]
};

option && myChart.setOption(option);
</script>
</body>
</html>
